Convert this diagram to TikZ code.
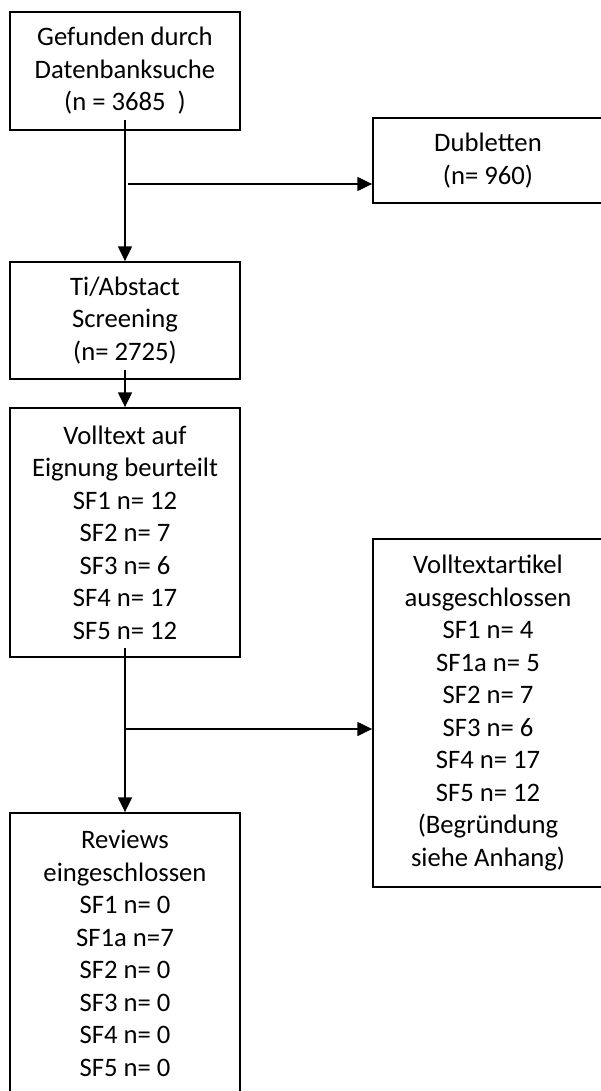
\documentclass[tikz,border=0pt]{standalone}
\usepackage{fontspec}
\setmainfont{Carlito}
\usetikzlibrary{arrows.meta}

\tikzset{
  box/.style={draw, line width=1.4pt, minimum width=172.5pt, align=center,
    font=\fontsize{20}{24.4}\selectfont, inner sep=0pt},
  arr/.style={line width=0.9pt, -{Triangle[length=11pt,width=10.5pt]}}
}

\begin{document}
\begin{tikzpicture}[x=0.75pt, y=-0.75pt]
\useasboundingbox (0,0) rectangle (600,1091);
% left column
\node[box, minimum height=88.5pt] (find) at (125,71)
  {Gefunden durch\\Datenbanksuche\\(n = 3685\ \ )};
\node[box, minimum height=87.75pt] (screen) at (125,320.5)
  {Ti/Abstact\\Screening\\(n= 2725)};
\node[box, minimum height=186.75pt] (full) at (125,532.5)
  {Volltext auf\\Eignung beurteilt\\SF1 n= 12\\SF2 n= 7\\SF3 n= 6\\SF4 n= 17\\SF5 n= 12};
\node[box, minimum height=210.75pt] (incl) at (125,953.5)
  {Reviews\\eingeschlossen\\SF1 n= 0\\SF1a n=7\\SF2 n= 0\\SF3 n= 0\\SF4 n= 0\\SF5 n= 0};
% right column
\node[box, minimum height=63.75pt] (dub) at (488,160.5)
  {Dubletten\\(n= 960)};
\node[box, minimum height=261pt] (excl) at (488,713)
  {Volltextartikel\\ausgeschlossen\\SF1 n= 4\\SF1a n= 5\\SF2 n= 7\\SF3 n= 6\\SF4 n= 17\\SF5 n= 12\\(Begründung\\siehe Anhang)};
% connectors
\coordinate (split1) at (128,184);
\coordinate (split2) at (125,729);
\draw[arr] ([yshift=8.25pt]find.south) -- (screen.north);
\draw[arr] (split1) -- (split1 -| dub.west);
\draw[arr] ([yshift=7.5pt]screen.south) -- (full.north);
\draw[arr] ([yshift=7.5pt]full.south) -- (incl.north);
\draw[arr] (split2) -- (split2 -| excl.west);
\end{tikzpicture}
\end{document}
